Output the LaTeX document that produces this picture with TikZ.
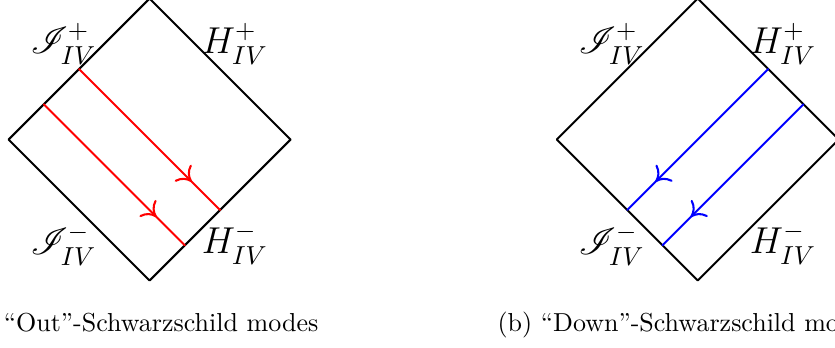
\documentclass[tikz,border=0pt]{standalone}
\usepackage{amsmath}
\usepackage{amssymb}
\usepackage{mathrsfs}
\usetikzlibrary{arrows.meta,decorations.markings}

\begin{document}
\begin{tikzpicture}[x=0.953cm,y=0.953cm, line cap=round, line join=round,
  region/.style={thick},
  mode/.style={thick, postaction={decorate},
    decoration={markings, mark=at position 0.8 with
      {\arrow{Computer Modern Rightarrow[length=5pt,width=9pt]}}}},
  bdry/.style={inner sep=0pt, font=\Large},
  caption/.style={inner sep=0pt, anchor=base west}]
\useasboundingbox (-2.121,-2.957) rectangle (9.723,1.979);

% (a) outgoing modes
\begin{scope}
  % diamond
  \draw[region] (0,2) -- (2,0) -- (0,-2) -- (-2,0) -- cycle;

  % modes
  \foreach \s in {0,0.5} {
    \draw[mode, red] (-1-\s,1-\s) -- (1-\s,-1-\s);
  }

  % boundaries
  \node[bdry] (scriplusa)  at (-1.22,1.36)  {$\mathscr{I}^+_{IV}$};
  \node[bdry] (hplusa)     at (1.21,1.36)   {$H^+_{IV}$};
  \node[bdry] (scriminusa) at (-1.22,-1.50) {$\mathscr{I}^-_{IV}$};
  \node[bdry] (hminusa)    at (1.21,-1.48)  {$H^-_{IV}$};

  \node[caption] (capa) at (-2.074,-2.73) {``Out''-Schwarzschild modes};
\end{scope}

% (b) ingoing modes
\begin{scope}[shift={(7.776,0)}]
  % diamond
  \draw[region] (0,2) -- (2,0) -- (0,-2) -- (-2,0) -- cycle;

  % modes
  \foreach \s in {0,0.5} {
    \draw[mode, blue] (1+\s,1-\s) -- (-1+\s,-1-\s);
  }

  % boundaries
  \node[bdry] (scriplusb)  at (-1.22,1.36)  {$\mathscr{I}^+_{IV}$};
  \node[bdry] (hplusb)     at (1.21,1.36)   {$H^+_{IV}$};
  \node[bdry] (scriminusb) at (-1.22,-1.50) {$\mathscr{I}^-_{IV}$};
  \node[bdry] (hminusb)    at (1.21,-1.48)  {$H^-_{IV}$};

  \node[caption] (capb) at (-2.847,-2.73) {(b) ``Down''-Schwarzschild modes};
\end{scope}
\end{tikzpicture}
\end{document}
